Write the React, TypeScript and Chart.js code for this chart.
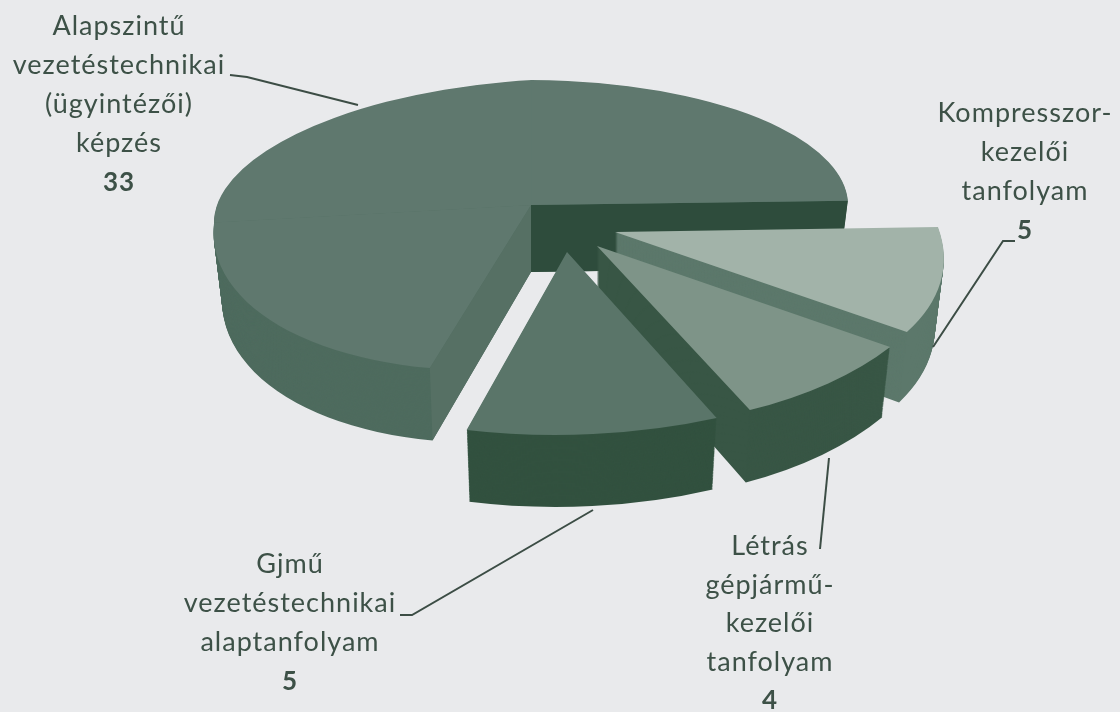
import React, { useEffect, useRef } from "react";
import { Chart, registerables } from "chart.js";

Chart.register(...registerables);

const categories = [
  "Kompresszor-kezelői tanfolyam",
  "Létrás gépjármű-kezelői tanfolyam",
  "Gjmű vezetéstechnikai alaptanfolyam",
  "Alapszintű vezetéstechnikai (ügyintézői) képzés",
];
const values = [5, 4, 5, 33];

const topColors = ["#a2b3a9", "#7e9488", "#5a7569", "#5f786e"];
const wallColors = ["#5c786b", "#385645", "#32513f", "#4e6b5e"];
const backFaceColor = "#2e4c3c";
const cutFaceColor = "#567064";
const TEXT = "#3d5147";
const BG = "#e9eaec";

// 3D look: explode offset, extrusion and affine projection per slice
const R = 317;
const SHRINK_X = 0.0004;
const GROW_Y = 0.0005;
const explode = [
  { dx: 84, dy: 27, depth: 67 },
  { dx: 66, dy: 41, depth: 67 },
  { dx: 36, dy: 47, depth: 66 },
  { dx: 0, dy: 0, depth: 67 },
];
type Piece = { m: number[]; clip?: number[] };
const projections: Piece[][] = [
  [{ m: [1.025, 0.003, 0.16, 0.529] }],
  [{ m: [1.109, -0.026, 0.052, 0.5735] }],
  [{ m: [1.205, -0.018, 0, 0.577] }],
  [
    { m: [1, 0, 0, 0.394], clip: [-0.5, -400, 400, 400.5] },
    { m: [1, -0.055, 0, 0.394], clip: [-400, -400, 400.5, 400.5] },
    { m: [1, -0.055, -0.0585, 0.518], clip: [-400, 0, 400.5, 400] },
  ],
];

const labelLines = [
  ["Kompresszor-", "kezelői", "tanfolyam"],
  ["Létrás", "gépjármű-", "kezelői", "tanfolyam"],
  ["Gjmű", "vezetéstechnikai", "alaptanfolyam"],
  ["Alapszintű", "vezetéstechnikai", "(ügyintézői)", "képzés"],
];
const labelAnchor = [
  { x: 1025, y: 122, gap: 39 },
  { x: 770, y: 555, gap: 38.5 },
  { x: 290, y: 573, gap: 39 },
  { x: 119, y: 35, gap: 39 },
];
const leaders = [
  [[1015, 241], [1003, 241], [933, 347]],
  [[829, 458], [820, 549]],
  [[593, 510], [412, 615], [400, 615]],
  [[230, 75], [247, 77], [358, 105]],
];

const flatOptions = (color: string) => ({
  backgroundColor: color,
  borderColor: color,
  borderWidth: 0,
  borderAlign: "center",
  borderRadius: 0,
  borderJoinStyle: "round",
  borderDash: [],
  borderDashOffset: 0,
  offset: 0,
  spacing: 0,
  circular: true,
});

function drawSlice(ctx: any, arc: any, i: number, color: string, yOff: number) {
  const saved = arc.options;
  arc.options = flatOptions(color);
  for (const piece of projections[i]) {
    ctx.save();
    ctx.translate(arc.x + explode[i].dx, arc.y + explode[i].dy + yOff);
    ctx.scale(1 - SHRINK_X * yOff, 1 + GROW_Y * yOff);
    ctx.transform(piece.m[0], piece.m[1], piece.m[2], piece.m[3], 0, 0);
    if (piece.clip) {
      ctx.beginPath();
      ctx.rect(piece.clip[0], piece.clip[1], piece.clip[2], piece.clip[3]);
      ctx.clip();
    }
    ctx.translate(-arc.x, -arc.y);
    arc.draw(ctx);
    ctx.restore();
  }
  arc.options = saved;
}

function edgeVector(arc: any, i: number, angle: number) {
  const ux = Math.cos(angle) * arc.outerRadius;
  const uy = Math.sin(angle) * arc.outerRadius;
  const pieces = projections[i];
  let piece = pieces[0];
  if (pieces.length > 1) {
    piece = ux >= 0 ? pieces[0] : uy < 0 ? pieces[1] : pieces[2];
  }
  return {
    x: piece.m[0] * ux + piece.m[2] * uy,
    y: piece.m[1] * ux + piece.m[3] * uy,
  };
}

function drawCutFace(ctx: any, arc: any, i: number, angle: number, color: string) {
  const v = edgeVector(arc, i, angle);
  const ox = arc.x + explode[i].dx;
  const oy = arc.y + explode[i].dy;
  const d = explode[i].depth;
  ctx.fillStyle = color;
  ctx.beginPath();
  ctx.moveTo(ox, oy);
  ctx.lineTo(ox + v.x, oy + v.y);
  ctx.lineTo(ox + v.x * (1 - SHRINK_X * d), oy + d + v.y * (1 + GROW_Y * d));
  ctx.lineTo(ox, oy + d);
  ctx.closePath();
  ctx.fill();
}

const pie3d = {
  id: "pie3d",
  beforeDatasetsDraw(chart: any) {
    const ctx = chart.ctx;
    const arcs = chart.getDatasetMeta(0).data;
    // back to front: large slice, then the exploded slices
    for (const i of [3, 0, 1, 2]) {
      const arc = arcs[i];
      for (let y = explode[i].depth; y >= 1; y--) {
        drawSlice(ctx, arc, i, wallColors[i], y);
      }
      if (i === 3) {
        drawCutFace(ctx, arc, i, arc.endAngle, backFaceColor);
        drawCutFace(ctx, arc, i, arc.startAngle, cutFaceColor);
      }
      drawSlice(ctx, arc, i, topColors[i], 0);
    }
    return false;
  },
  afterDraw(chart: any) {
    const ctx = chart.ctx;
    ctx.save();
    ctx.strokeStyle = "#3c4d45";
    ctx.lineWidth = 2;
    for (const pts of leaders) {
      ctx.beginPath();
      pts.forEach((p, k) => (k ? ctx.lineTo(p[0], p[1]) : ctx.moveTo(p[0], p[1])));
      ctx.stroke();
    }
    ctx.fillStyle = TEXT;
    ctx.textAlign = "center";
    ctx.textBaseline = "alphabetic";
    ctx.letterSpacing = "1px";
    labelLines.forEach((lines, i) => {
      const a = labelAnchor[i];
      ctx.font = "400 27px Lato";
      lines.forEach((t, k) => ctx.fillText(t, a.x, a.y + k * a.gap));
      ctx.font = "700 26px Lato";
      ctx.fillText(String(values[i]), a.x, a.y + lines.length * a.gap);
    });
    ctx.restore();
  },
};

export default function App() {
  const ref = useRef<HTMLCanvasElement>(null);
  useEffect(() => {
    document.body.style.margin = "0";
    document.body.style.background = BG;
    const chart = new Chart(ref.current as any, {
      type: "pie",
      data: {
        labels: categories,
        datasets: [{ data: values, backgroundColor: topColors, borderWidth: 0, radius: R } as any],
      },
      options: {
        animation: false,
        responsive: false,
        rotation: 88,
        layout: { padding: { left: 0, right: 58, top: 0, bottom: 302 } },
        plugins: { legend: { display: false }, tooltip: { enabled: false } },
      },
      plugins: [pie3d as any],
    });
    return () => chart.destroy();
  }, []);
  return (
    <div style={{ width: 1120, height: 712, background: BG }}>
      <canvas ref={ref} width={1120} height={712} style={{ display: "block" }} />
    </div>
  );
}
